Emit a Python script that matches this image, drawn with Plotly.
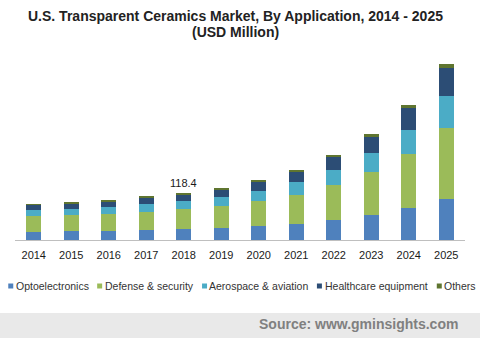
import plotly.graph_objects as go

years = ["2014", "2015", "2016", "2017", "2018", "2019", "2020", "2021", "2022", "2023", "2024", "2025"]
optoelectronics = [20.2, 22.7, 22.7, 25.2, 27.7, 30.2, 35.3, 41.0, 50.4, 63.0, 80.6, 103.3]
defense = [40.3, 40.3, 42.8, 45.4, 50.4, 55.4, 63.0, 72.3, 88.2, 108.4, 136.1, 178.9]
aerospace = [15.1, 15.1, 17.6, 20.2, 20.2, 22.7, 25.2, 32.8, 37.8, 47.9, 60.5, 80.6]
healthcare = [12.6, 15.1, 15.1, 15.1, 17.6, 20.2, 22.7, 27.7, 32.8, 40.3, 55.4, 70.6]
others = [2.5, 2.5, 2.5, 2.5, 2.5, 2.5, 4.5, 3.0, 5.0, 7.6, 7.6, 10.1]
series_names = ["Optoelectronics", "Defense & security", "Aerospace & aviation", "Healthcare equipment", "Others"]
colors = ["#4f81bd", "#9bbb59", "#4bacc6", "#2c4d75", "#5f7530"]
label_year = "2018"
label_text = "118.4"

W_, H_ = 480, 338
L, R, T, B = 14.75, 14.75, 50, 98
PW = W_ - L - R
PH = H_ - T - B


def xp(px):
    return (px - L) / PW


def yp(py):
    return (H_ - B - py) / PH


fig = go.Figure()
for name, vals, c in zip(series_names, [optoelectronics, defense, aerospace, healthcare, others], colors):
    fig.add_trace(go.Bar(x=years, y=vals, name=name, marker=dict(color=c, line=dict(width=0)),
                         showlegend=False, hoverinfo="skip"))

totals = [sum(v) for v in zip(optoelectronics, defense, aerospace, healthcare, others)]
idx = years.index(label_year)

fig.update_layout(
    width=W_, height=H_,
    margin=dict(l=L, r=R, t=T, b=B, pad=0),
    barmode="stack", bargap=0.6,
    paper_bgcolor="white", plot_bgcolor="white",
    font=dict(family="Liberation Sans, Arial, sans-serif"),
    xaxis=dict(type="category", range=[-0.5, len(years) - 0.5], showline=True, linecolor="#bfbfbf",
               linewidth=1, showgrid=False, ticks="", tickfont=dict(size=11, color="#1a1a1a"),
               ticklabelstandoff=5, fixedrange=True),
    yaxis=dict(range=[0, PH * 2.52], visible=False, fixedrange=True),
    showlegend=False,
)

fig.add_annotation(x=idx, y=totals[idx], xref="x", yref="y", text=label_text, showarrow=False,
                   yanchor="bottom", yshift=2, font=dict(size=11, color="#1a1a1a"))
fig.add_annotation(x=xp(235), y=yp(16), xref="paper", yref="paper",
                   text="<b>U.S. Transparent Ceramics Market, By Application, 2014 - 2025</b>",
                   showarrow=False, xanchor="center", yanchor="middle", font=dict(size=14, color="#222222"))
fig.add_annotation(x=xp(235), y=yp(31.5), xref="paper", yref="paper", text="<b>(USD Million)</b>",
                   showarrow=False, xanchor="center", yanchor="middle", font=dict(size=14, color="#222222"))
fig.add_annotation(x=xp(460), y=yp(323.5), xref="paper", yref="paper", text="<b>Source: www.gminsights.com</b>",
                   showarrow=False, xanchor="right", yanchor="middle", font=dict(size=14, color="#808080"))

fig.add_shape(type="rect", xref="paper", yref="paper", x0=xp(-5), x1=xp(485), y0=yp(313), y1=yp(345),
              fillcolor="#e9e9e9", line=dict(width=0), layer="below")

sq_x = [8, 97, 202, 317, 437]
tx_x = [16, 105, 209, 325, 444]
for name, c, sx, tx in zip(series_names, colors, sq_x, tx_x):
    fig.add_shape(type="rect", xref="paper", yref="paper", x0=xp(sx), x1=xp(sx + 5),
                  y0=yp(283.5), y1=yp(288.5), fillcolor=c, line=dict(width=0))
    fig.add_annotation(x=xp(tx), y=yp(286), xref="paper", yref="paper", text=name, showarrow=False,
                       xanchor="left", yanchor="middle", xshift=-2,
                       font=dict(size=10.5, color="#333333"))

fig.write_html("out.html")
